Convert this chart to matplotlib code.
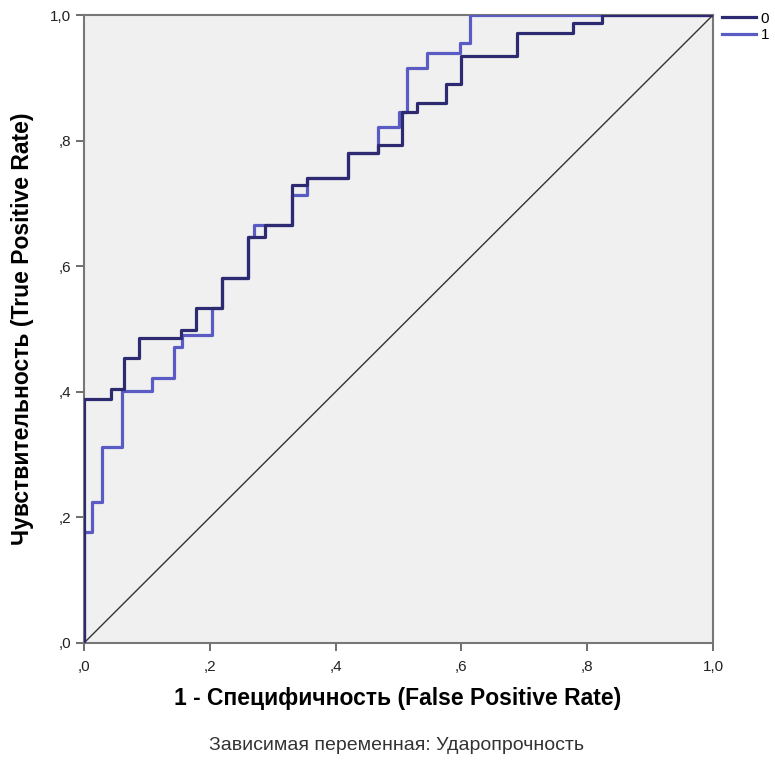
import numpy as np
import matplotlib.pyplot as plt

plt.rcParams['font.family'] = ['Liberation Sans', 'DejaVu Sans']

# ROC points (step curve, vertical step first)
fpr_0 = [0, 0.043, 0.064, 0.088, 0.154, 0.178, 0.220, 0.260, 0.287, 0.331, 0.354,
         0.419, 0.467, 0.505, 0.530, 0.576, 0.600, 0.688, 0.777, 0.823, 1.0]
tpr_0 = [0, 0.389, 0.404, 0.454, 0.486, 0.498, 0.533, 0.581, 0.646, 0.666, 0.729,
         0.740, 0.780, 0.793, 0.845, 0.860, 0.890, 0.935, 0.971, 0.987, 1.0]

fpr_1 = [0, 0.013, 0.029, 0.061, 0.108, 0.143, 0.156, 0.204, 0.220, 0.260, 0.271,
         0.331, 0.354, 0.419, 0.467, 0.500, 0.513, 0.546, 0.597, 0.613, 1.0]
tpr_1 = [0, 0.177, 0.225, 0.312, 0.401, 0.422, 0.471, 0.490, 0.533, 0.581, 0.646,
         0.666, 0.713, 0.740, 0.780, 0.822, 0.845, 0.916, 0.940, 0.955, 1.0]

ticks = [0, 0.2, 0.4, 0.6, 0.8, 1.0]
tick_labels = [',0', ',2', ',4', ',6', ',8', '1,0']

fig = plt.figure(figsize=(7.75, 7.66), dpi=100)
ax = fig.add_axes([0.1084, 0.1606, 0.8116, 0.8198])
ax.set_facecolor('#f0f0f0')

ax.plot([0, 1], [0, 1], color='#333333', lw=1.0, zorder=2)
ax.step(fpr_0, tpr_0, where='pre', color='#2d2a72', lw=2.3, label='0', zorder=4)
ax.step(fpr_1, tpr_1, where='pre', color='#5a5cc4', lw=2.3, label='1', zorder=3)

ax.set_xlim(0, 1)
ax.set_ylim(0, 1)
ax.set_xticks(ticks)
ax.set_xticklabels(tick_labels)
ax.set_yticks(ticks)
ax.set_yticklabels(tick_labels)
ax.tick_params(direction='out', length=6, width=1.2, color='#555555',
               labelsize=11, labelcolor='#222222')
ax.tick_params(axis='x', pad=6)
for s in ax.spines.values():
    s.set_color('#777777')
    s.set_linewidth(1.5)

ax.set_xlabel('1 - Специфичность (False Positive Rate)', fontsize=16.5,
              fontweight='bold')
ax.xaxis.set_label_coords(0.498, -0.07)
ax.set_ylabel('Чувствительность (True Positive Rate)', fontsize=16.5,
              fontweight='bold')
ax.yaxis.set_label_coords(-0.079, 0.5)

leg = ax.legend(loc='upper left', bbox_to_anchor=(1.005, 1.015), frameon=False,
                fontsize=11, handlelength=2.2, handletextpad=0.3,
                labelspacing=0.15, borderaxespad=0)

fig.text(0.511, 0.027, 'Зависимая переменная: Ударопрочность', ha='center',
         va='center', fontsize=14, color='#333333')

fig.savefig('out.png', dpi=100, facecolor='white')
